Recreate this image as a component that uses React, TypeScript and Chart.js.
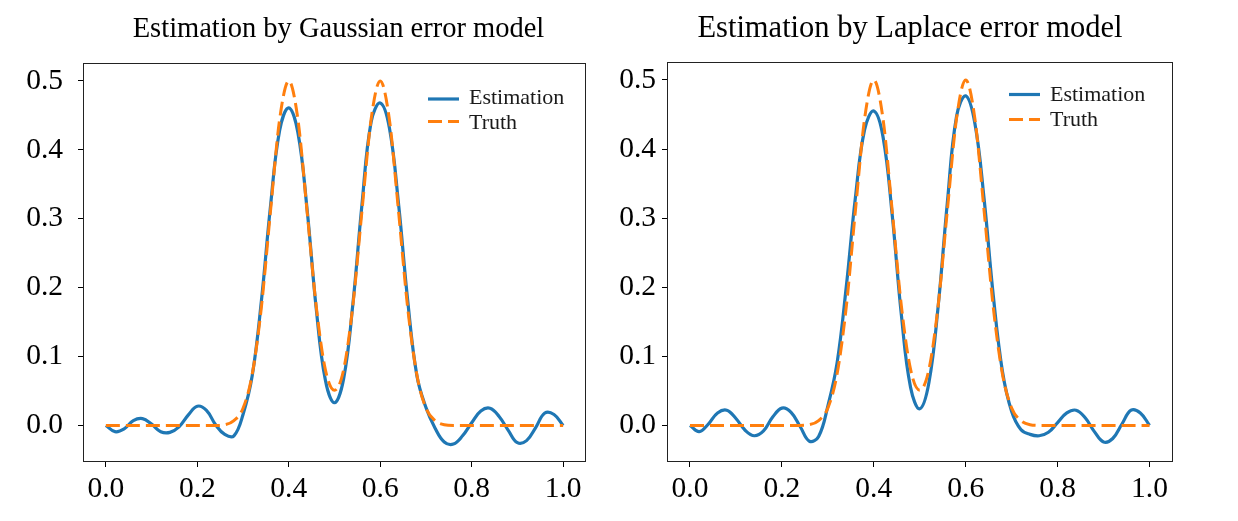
import React, { useEffect, useRef } from "react";
import { Chart, registerables } from "chart.js";

Chart.register(...registerables);

// Sample positions along the horizontal axis
const xGrid = [
  0, 0.02, 0.04, 0.06, 0.08, 0.1, 0.12, 0.14, 0.16, 0.18,
  0.2, 0.22, 0.24, 0.26, 0.28, 0.3, 0.32, 0.34, 0.36, 0.38,
  0.4, 0.42, 0.44, 0.46, 0.48, 0.5, 0.52, 0.54, 0.56, 0.58,
  0.6, 0.62, 0.64, 0.66, 0.68, 0.7, 0.72, 0.74, 0.76, 0.78,
  0.8, 0.82, 0.84, 0.86, 0.88, 0.9, 0.92, 0.94, 0.96, 0.98, 1.0,
];

// True density (same in both panels)
const truth = [
  0, 0, 0, 0, 0, 0, 0, 0, 0, 0,
  0, 0, 0, 0.001, 0.007, 0.025, 0.074, 0.171, 0.311, 0.444,
  0.5, 0.444, 0.311, 0.173, 0.081, 0.051, 0.081, 0.173, 0.311, 0.444,
  0.5, 0.444, 0.311, 0.171, 0.074, 0.025, 0.007, 0.001, 0, 0,
  0, 0, 0, 0, 0, 0, 0, 0, 0, 0, 0,
];

// Estimate under the Gaussian error model
const gaussianEstimate = [
  0, -0.009, -0.005, 0.007, 0.01, 0.002, -0.009, -0.01, -0.002, 0.015,
  0.028, 0.022, 0.001, -0.013, -0.015, 0.016, 0.072, 0.18, 0.318, 0.428,
  0.461, 0.425, 0.314, 0.17, 0.066, 0.033, 0.068, 0.175, 0.32, 0.44,
  0.468, 0.432, 0.322, 0.182, 0.073, 0.026, -0.004, -0.024, -0.027, -0.015,
  0.004, 0.021, 0.025, 0.013, -0.007, -0.025, -0.022, -0.003, 0.018, 0.016, 0,
];

// Estimate under the Laplace error model
const laplaceEstimate = [
  0, -0.009, 0.002, 0.018, 0.022, 0.01, -0.007, -0.015, -0.008, 0.012,
  0.025, 0.019, -0.002, -0.023, -0.016, 0.028, 0.09, 0.2, 0.33, 0.428,
  0.455, 0.418, 0.305, 0.16, 0.055, 0.024, 0.062, 0.172, 0.322, 0.447,
  0.477, 0.437, 0.328, 0.188, 0.078, 0.02, -0.006, -0.013, -0.015, -0.01,
  0.004, 0.018, 0.022, 0.011, -0.009, -0.024, -0.019, 0.002, 0.022, 0.018, 0,
];

const xTickValues = [0, 0.2, 0.4, 0.6, 0.8, 1.0];
const yTickValues = [0, 0.1, 0.2, 0.3, 0.4, 0.5];
const seriesNames = ["Estimation", "Truth"];
const panelTitles = [
  "Estimation by Gaussian error model",
  "Estimation by Laplace error model",
];

const FONT = "'Liberation Serif', 'Times New Roman', 'DejaVu Serif', serif";
const BLUE = "#1f77b4";
const ORANGE = "#ff7f0e";
const DASH = [14, 6];
const TICK_FONT_SIZE = 29.5;

type PanelLayout = {
  left: number;
  width: number;
  yAxisWidth: number;
  padRight: number;
  padTop: number;
  xAxisHeight: number;
  yTickPad: number;
  titleX: number;
  titleY: number;
  titleSize: number;
  legendX0: number;
  legendX1: number;
  legendTextX: number;
  legendY: number[];
  legendBaseline: number[];
};

// Frame, title and legend drawn on top of the plot
const panelDecor = {
  id: "panelDecor",
  afterDatasetsDraw(chart: any, _args: any, opts: any) {
    const { ctx, chartArea: a } = chart;
    ctx.save();
    ctx.setLineDash([]);
    ctx.strokeStyle = "#222";
    ctx.lineWidth = 1;
    const l = Math.round(a.left) + 0.5;
    const t = Math.round(a.top) + 0.5;
    const r = Math.round(a.right) - 0.5;
    const b = Math.round(a.bottom) - 0.5;
    ctx.strokeRect(l, t, r - l, b - t);

    ctx.fillStyle = "#000";
    ctx.font = `${opts.titleSize}px ${FONT}`;
    ctx.textAlign = "center";
    ctx.textBaseline = "alphabetic";
    ctx.fillText(opts.title, opts.titleX, opts.titleY);

    ctx.font = `22px ${FONT}`;
    ctx.textAlign = "left";
    opts.items.forEach((it: any, i: number) => {
      ctx.beginPath();
      ctx.setLineDash(it.dash);
      ctx.strokeStyle = it.color;
      ctx.lineWidth = 3.2;
      ctx.moveTo(opts.legendX0, opts.legendY[i]);
      ctx.lineTo(opts.legendX1, opts.legendY[i]);
      ctx.stroke();
      ctx.fillStyle = "#1a1a1a";
      ctx.fillText(it.label, opts.legendTextX, opts.legendBaseline[i]);
    });
    ctx.restore();
  },
};

function Panel(props: {
  title: string;
  estimate: number[];
  layout: PanelLayout;
}) {
  const ref = useRef<HTMLCanvasElement | null>(null);
  const { layout: L } = props;

  useEffect(() => {
    if (!ref.current) return;
    const pts = (ys: number[]) => xGrid.map((x, i) => ({ x, y: ys[i] }));
    const tickGrid = {
      drawOnChartArea: false,
      drawTicks: true,
      tickLength: 5,
      tickColor: "#000",
      tickWidth: 1,
    };
    const chart = new Chart(ref.current, {
      type: "line",
      data: {
        datasets: [
          {
            label: seriesNames[0],
            data: pts(props.estimate),
            borderColor: BLUE,
            borderWidth: 3.2,
            pointRadius: 0,
            tension: 0.4,
            fill: false,
            order: 1,
          },
          {
            label: seriesNames[1],
            data: pts(truth),
            borderColor: ORANGE,
            borderWidth: 3,
            borderDash: DASH,
            pointRadius: 0,
            cubicInterpolationMode: "monotone",
            fill: false,
            order: 0,
          },
        ],
      },
      options: {
        animation: false,
        responsive: false,
        devicePixelRatio: 1,
        events: [],
        layout: {
          padding: { left: 0, right: L.padRight, top: L.padTop, bottom: 0 },
        },
        plugins: {
          legend: { display: false },
          title: { display: false },
          tooltip: { enabled: false },
          panelDecor: {
            title: props.title,
            titleX: L.titleX,
            titleY: L.titleY,
            titleSize: L.titleSize,
            legendX0: L.legendX0,
            legendX1: L.legendX1,
            legendTextX: L.legendTextX,
            legendY: L.legendY,
            legendBaseline: L.legendBaseline,
            items: [
              { label: seriesNames[0], color: BLUE, dash: [] },
              { label: seriesNames[1], color: ORANGE, dash: DASH },
            ],
          },
        } as any,
        scales: {
          x: {
            type: "linear",
            min: -0.05,
            max: 1.05,
            afterBuildTicks: (s: any) => {
              s.ticks = xTickValues.map((v) => ({ value: v }));
            },
            afterFit: (s: any) => {
              s.height = L.xAxisHeight;
            },
            ticks: {
              autoSkip: false,
              maxRotation: 0,
              padding: 5,
              color: "#000",
              font: { family: FONT, size: TICK_FONT_SIZE },
              callback: (v: any) => Number(v).toFixed(1),
            },
            grid: tickGrid,
            border: { display: false },
          },
          y: {
            type: "linear",
            min: -0.053,
            max: 0.526,
            afterBuildTicks: (s: any) => {
              s.ticks = yTickValues.map((v) => ({ value: v }));
            },
            afterFit: (s: any) => {
              s.width = L.yAxisWidth;
            },
            ticks: {
              autoSkip: false,
              padding: L.yTickPad,
              color: "#000",
              font: { family: FONT, size: TICK_FONT_SIZE },
              callback: (v: any) => Number(v).toFixed(1),
            },
            grid: tickGrid,
            border: { display: false },
          },
        },
      },
      plugins: [panelDecor],
    });
    return () => chart.destroy();
  }, []);

  return (
    <canvas
      ref={ref}
      width={L.width}
      height={521}
      style={{
        position: "absolute",
        left: L.left,
        top: 0,
        width: L.width,
        height: 521,
      }}
    />
  );
}

const leftLayout: PanelLayout = {
  left: 0,
  width: 619,
  yAxisWidth: 83,
  padRight: 33,
  padTop: 63,
  xAxisHeight: 59,
  yTickPad: 15,
  titleX: 338.5,
  titleY: 37,
  titleSize: 28.5,
  legendX0: 428,
  legendX1: 459,
  legendTextX: 469,
  legendY: [99, 121.5],
  legendBaseline: [103.5, 128.5],
};

const rightLayout: PanelLayout = {
  left: 619,
  width: 619,
  yAxisWidth: 48,
  padRight: 65.5,
  padTop: 62,
  xAxisHeight: 59,
  yTickPad: 6,
  titleX: 910 - 619,
  titleY: 37,
  titleSize: 30.5,
  legendX0: 1009 - 619,
  legendX1: 1040 - 619,
  legendTextX: 1050 - 619,
  legendY: [94.5, 119.5],
  legendBaseline: [100.5, 125.5],
};

export default function App() {
  return (
    <div
      style={{
        position: "absolute",
        left: 0,
        top: 0,
        width: 1238,
        height: 521,
        background: "#fff",
      }}
    >
      <Panel title={panelTitles[0]} estimate={gaussianEstimate} layout={leftLayout} />
      <Panel title={panelTitles[1]} estimate={laplaceEstimate} layout={rightLayout} />
    </div>
  );
}
